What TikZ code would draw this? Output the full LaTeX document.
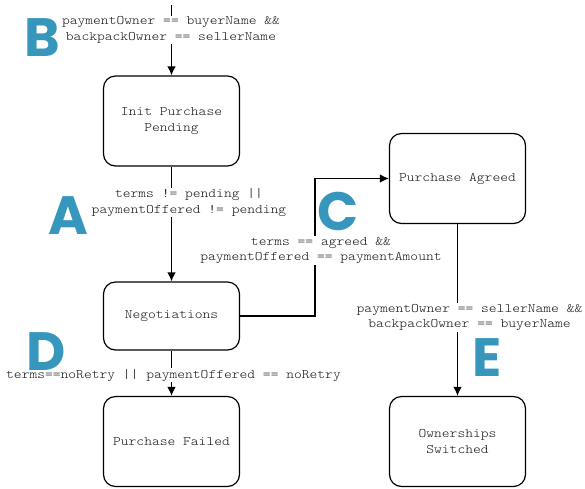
\documentclass[tikz,border=0pt]{standalone}
\usepackage{fontspec}
\newfontfamily\condfont{Latin Modern Mono Light}[FakeStretch=1.14]
\newfontfamily\letterfont{Poppins}
\usetikzlibrary{arrows.meta}
\definecolor{letterblue}{RGB}{55,150,188}

\tikzset{
  state/.style={draw, rounded corners=12pt, line width=1.2pt, minimum width=136pt,
    minimum height=90pt, align=center, text=black!90,
    font=\condfont\fontsize{13}{16}\selectfont},
  cond/.style={fill=white, align=center, inner sep=1pt, text=black!90,
    font=\condfont\fontsize{13}{15.5}\selectfont},
  letter/.style={inner sep=0pt, text=letterblue,
    font=\letterfont\bfseries\fontsize{54}{54}\selectfont},
  arr/.style={-{Latex[length=9pt,width=8.5pt]}, line width=1.2pt}
}

\begin{document}
\begin{tikzpicture}[x=1pt,y=-1pt]
    \useasboundingbox (0,0) rectangle (585,488);

    % Stati
    \node[state] (init) at (171.5,121) {Init Purchase\\Pending};
    \node[state, minimum height=68pt] (nego) at (171.5,316) {Negotiations};
    \node[state] (failed) at (171.5,441.5) {Purchase Failed};
    \node[state] (agreed) at (457.5,178.5) {Purchase Agreed};
    \node[state] (switched) at (457.5,441.5) {Ownerships\\Switched};

    % Transizioni
    \coordinate (start) at (171.5,5);
    \coordinate (kink) at (315,250);
    \draw[arr] (start) -- (init.north);
    \draw[arr] (init.south) -- (nego.north);
    \draw[arr] (nego.east) -| (kink) |- (agreed.west);
    \draw[arr] (nego.south) -- (failed.north);
    \draw[arr] (agreed.south) -- (switched.north);

    % Condizioni
    \node[cond] (condB) at (171,30) {paymentOwner == buyerName \&\&\\backpackOwner == sellerName};
    \node[cond] (condA) at (189,202.5) {terms != pending ||\\paymentOffered != pending};
    \node[cond] (condC) at (321,250.5) {terms == agreed \&\&\\paymentOffered == paymentAmount};
    \node[cond] (condD) at (173.5,375) {terms==noRetry || paymentOffered == noRetry};
    \node[cond] (condE) at (469.5,317.5) {paymentOwner == sellerName \&\&\\backpackOwner == buyerName};

    % Lettere
    \node[letter] (letB) at (42.5,37.5) {B};
    \node[letter] (letA) at (68,215.5) {A};
    \node[letter] (letC) at (338.5,211) {C};
    \node[letter] (letD) at (46,352) {D};
    \node[letter] (letE) at (487.5,357.5) {E};
\end{tikzpicture}
\end{document}
